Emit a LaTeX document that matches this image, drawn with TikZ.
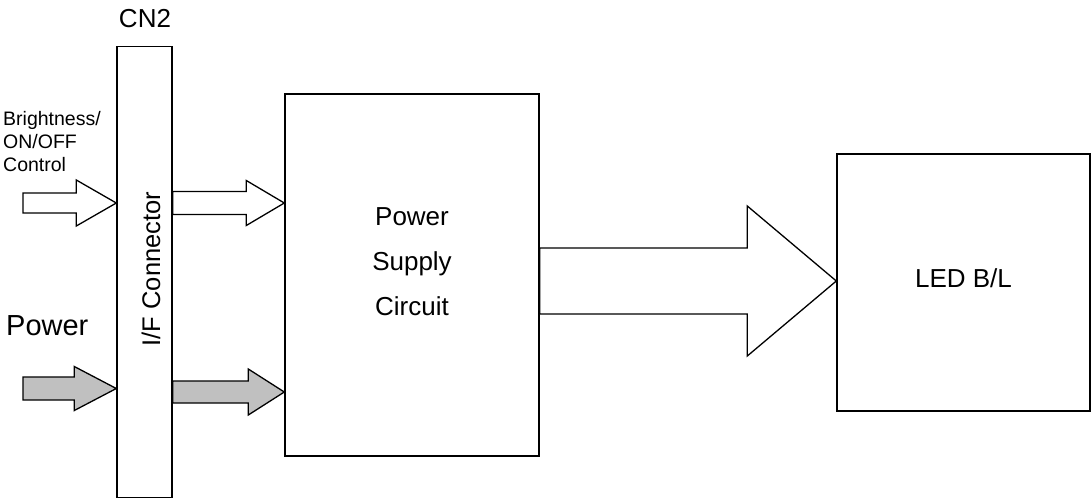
\documentclass[tikz,border=0pt]{standalone}
\usepackage{fontspec}
\setmainfont{Liberation Sans}
\usetikzlibrary{calc}
\newcommand\fatarrow[6]{% #1 style, #2 start, #3 tip, #4 half body, #5 half head, #6 head length
  \draw[#1] let \p1=#2, \p2=#3 in
    (\x1,\y2+#4) -- (\x2-#6,\y2+#4) -- (\x2-#6,\y2+#5) -- (\x2,\y2)
    -- (\x2-#6,\y2-#5) -- (\x2-#6,\y2-#4) -- (\x1,\y2-#4) -- cycle;}
\definecolor{arrgray}{RGB}{192,192,192}
\begin{document}
\begin{tikzpicture}[x=1pt,y=-1pt,
  blk/.style={draw, line width=1.4pt, rectangle, inner sep=0pt},
  txt/.style={inner sep=0pt, font=\fontsize{26}{30}\selectfont},
  whitearrow/.style={draw, line width=1.3pt, fill=white, line join=miter},
  grayarrow/.style={draw, line width=1.3pt, fill=arrgray, line join=miter}]
\useasboundingbox (0,0) rectangle (1091,501);
% blocks
\node[blk, minimum width=55pt, minimum height=451pt] (cn) at (144.5,272) {};
\node[blk, minimum width=254pt, minimum height=362pt] (psc) at (412,275) {};
\node[blk, minimum width=253pt, minimum height=257pt] (led) at (963.5,282.5) {};
% texts
\node[txt, anchor=base] (cn2) at (145,27) {CN2};
\node[txt, anchor=base, rotate=90, font=\fontsize{25.5}{30}\selectfont] (iflabel) at (160,269) {I/F Connector};
\node[txt, anchor=base] (pw1) at (412,225) {Power};
\node[txt, anchor=base] (pw2) at (412,270) {Supply};
\node[txt, anchor=base] (pw3) at (412,315) {Circuit};
\node[txt, anchor=base] (ledlabel) at (963.5,287) {LED B/L};
\node[txt, anchor=base west, font=\fontsize{29}{34}\selectfont] (powerlabel) at (6,335) {Power};
\node[txt, anchor=base west, font=\fontsize{19.5}{23}\selectfont] (br1) at (3,125) {Brightness/};
\node[txt, anchor=base west, font=\fontsize{19.5}{23}\selectfont] (br2) at (3,148) {ON/OFF};
\node[txt, anchor=base west, font=\fontsize{19.5}{23}\selectfont] (br3) at (3,171) {Control};
% arrow anchors
\coordinate (s1) at (23,203);
\coordinate (y2) at (0,203);
\coordinate (s3) at (23,388.5);
\coordinate (y4) at (0,392);
\coordinate (y5) at (0,281);
% arrows
\fatarrow{whitearrow}{(s1)}{(cn.west |- s1)}{10pt}{23pt}{40pt}
\fatarrow{whitearrow}{(cn.east |- y2)}{(psc.west |- y2)}{11.5pt}{22.5pt}{38pt}
\fatarrow{grayarrow}{(s3)}{(cn.west |- s3)}{11.5pt}{22pt}{42pt}
\fatarrow{grayarrow}{(cn.east |- y4)}{(psc.west |- y4)}{11pt}{23pt}{36pt}
\fatarrow{whitearrow}{(psc.east |- y5)}{(led.west |- y5)}{33pt}{75pt}{89pt}
\end{tikzpicture}
\end{document}
